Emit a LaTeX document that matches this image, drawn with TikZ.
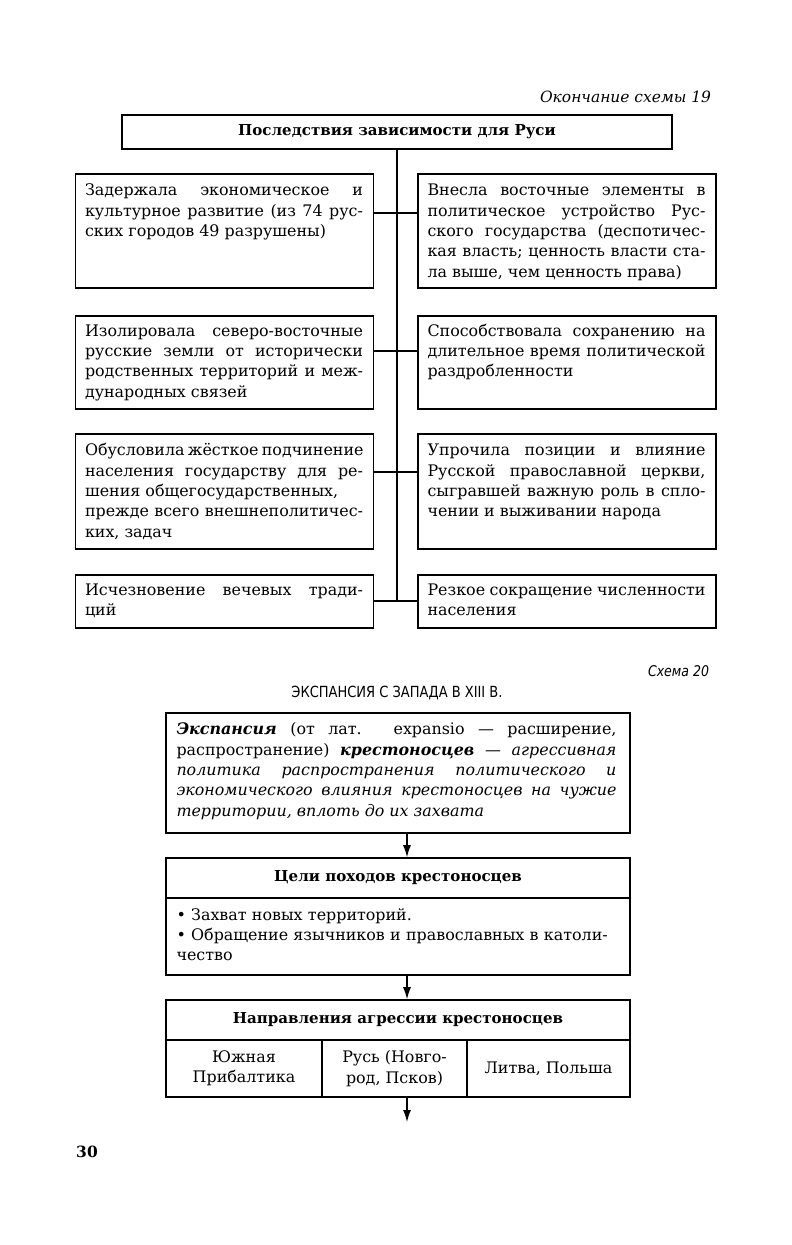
\documentclass[tikz,border=0pt]{standalone}
\usepackage{fontspec}
\setmainfont{DejaVu Serif}
\newfontfamily\condsans{DejaVu Sans}[FakeStretch=0.85]
\usetikzlibrary{arrows.meta,calc}
\hyphenpenalty=10000
\exhyphenpenalty=10000
\tolerance=9999

\begin{document}
\begin{tikzpicture}[
    font=\fontsize{11.3}{14.5}\selectfont,
    >=Latex,
    frame/.style={draw=black, line width=1.1pt, inner sep=0pt},
    cell/.style={frame, minimum width=7.45cm},
    wide/.style={frame, minimum width=11.6cm},
    head/.style={font=\fontsize{10.7}{14.5}\selectfont\bfseries},
    body/.style={anchor=base west, inner sep=0pt, text width=6.95cm, align=justify},
    wbody/.style={body, text width=11cm},
    link/.style={line width=0.9pt},
    arrow/.style={-{Latex[length=3mm,width=2mm]}, line width=0.9pt}
]
\useasboundingbox (0,0) rectangle (19.775,-31.125);

\node[anchor=east, font=\fontsize{11}{13}\selectfont\itshape] (cont) at (17.9,-2.425) {Окончание схемы 19};
\node[frame, head, minimum width=13.75cm, minimum height=0.85cm] (conseq) at (9.925,-3.3) {Последствия зависимости для Руси};

\node[cell, minimum height=2.85cm] (l1) at (5.6125,-5.775) {};
\node[cell, minimum height=2.85cm] (r1) at (14.175,-5.775) {};
\node[cell, minimum height=2.325cm] (l2) at (5.6125,-9.0625) {};
\node[cell, minimum height=2.325cm] (r2) at (14.175,-9.0625) {};
\node[cell, minimum height=2.875cm] (l3) at (5.6125,-12.2875) {};
\node[cell, minimum height=2.875cm] (r3) at (14.175,-12.2875) {};
\node[cell, minimum height=1.325cm] (l4) at (5.6125,-15.0375) {};
\node[cell, minimum height=1.325cm] (r4) at (14.175,-15.0375) {};

\node[body] (l1t) at ($(l1.north west)+(0.25,-0.56)$) {Задержала экономическое и\linebreak культурное развитие (из 74 рус-\linebreak ских городов 49 разрушены)};
\node[body] (r1t) at ($(r1.north west)+(0.25,-0.56)$) {Внесла восточные элементы в\linebreak политическое устройство Рус-\linebreak ского государства (деспотичес-\linebreak кая власть; ценность власти ста-\linebreak ла выше, чем ценность права)};
\node[body] (l2t) at ($(l2.north west)+(0.25,-0.52)$) {Изолировала северо-восточные\linebreak русские земли от исторически\linebreak родственных территорий и меж-\linebreak дународных связей};
\node[body] (r2t) at ($(r2.north west)+(0.25,-0.52)$) {Способствовала сохранению на\linebreak длительное время политической\linebreak раздробленности};
\node[body] (l3t) at ($(l3.north west)+(0.25,-0.56)$) {\hbox to\linewidth{Обусловила жёсткое подчинение}\linebreak населения государству для ре-\linebreak шения общегосударственных,\newline прежде всего внешнеполитичес-\linebreak ких, задач};
\node[body] (r3t) at ($(r3.north west)+(0.25,-0.56)$) {Упрочила позиции и влияние\linebreak Русской православной церкви,\linebreak сыгравшей важную роль в спло-\linebreak чении и выживании народа};
\node[body] (l4t) at ($(l4.north west)+(0.25,-0.52)$) {Исчезновение вечевых тради-\linebreak ций};
\node[body] (r4t) at ($(r4.north west)+(0.25,-0.52)$) {Резкое сокращение численности\linebreak населения};

\coordinate (j1) at (9.925,-5.325);
\coordinate (j2) at (9.925,-8.775);
\coordinate (j3) at (9.925,-11.8);
\coordinate (j4) at (9.925,-15.025);
\draw[link] (conseq.south) -- (j4);
\draw[link] (l1.east |- j1) -- (r1.west |- j1);
\draw[link] (l2.east |- j2) -- (r2.west |- j2);
\draw[link] (l3.east |- j3) -- (r3.west |- j3);
\draw[link] (l4.east |- j4) -- (r4.west |- j4);

\node[anchor=east, font=\condsans\fontsize{10.5}{13}\selectfont\itshape] (scheme) at (17.85,-16.775) {Схема 20};
\node[font=\condsans\fontsize{10.9}{12}\selectfont] (title) at (9.925,-17.325) {ЭКСПАНСИЯ С ЗАПАДА В XIII В.};

\node[wide, minimum height=3.0cm] (defn) at (9.95,-19.325) {};
\node[wbody] (defnt) at ($(defn.north west)+(0.275,-0.56)$) {\textbf{\textit{Экспансия}} (от лат. expansio — расширение,\linebreak распространение) \textbf{\textit{крестоносцев}} — \textit{агрессивная\linebreak политика распространения политического и\linebreak экономического влияния крестоносцев на чужие\linebreak территории, вплоть до их захвата}};

\node[wide, head, minimum height=1.0cm] (goalh) at (9.95,-21.95) {Цели походов крестоносцев};
\node[wide, minimum height=1.925cm] (goalb) at (9.95,-23.4125) {};
\node[wbody, align=left] (goalt) at ($(goalb.north west)+(0.275,-0.57)$) {• Захват новых территорий.\\• Обращение язычников и православных в католи-\\чество};

\node[wide, head, minimum height=1.0cm] (dirh) at (9.95,-25.5) {Направления агрессии крестоносцев};
\node[frame, minimum width=3.9cm, minimum height=1.425cm, align=center] (dir1) at (6.1,-26.7125) {Южная\\Прибалтика};
\node[frame, minimum width=3.625cm, minimum height=1.425cm, align=center] (dir2) at (9.8625,-26.7125) {Русь (Новго-\\род, Псков)};
\node[frame, minimum width=4.075cm, minimum height=1.425cm, align=center] (dir3) at (13.7125,-26.7125) {Литва, Польша};

\coordinate (out) at (10.175,-28.05);
\draw[arrow] (defn.south -| out) -- (goalh.north -| out);
\draw[arrow] (goalb.south -| out) -- (dirh.north -| out);
\draw[arrow] (dir2.south -| out) -- (out);

\node[font=\fontsize{11}{13}\selectfont\bfseries] (page) at (2.175,-28.8) {30};
\end{tikzpicture}
\end{document}
